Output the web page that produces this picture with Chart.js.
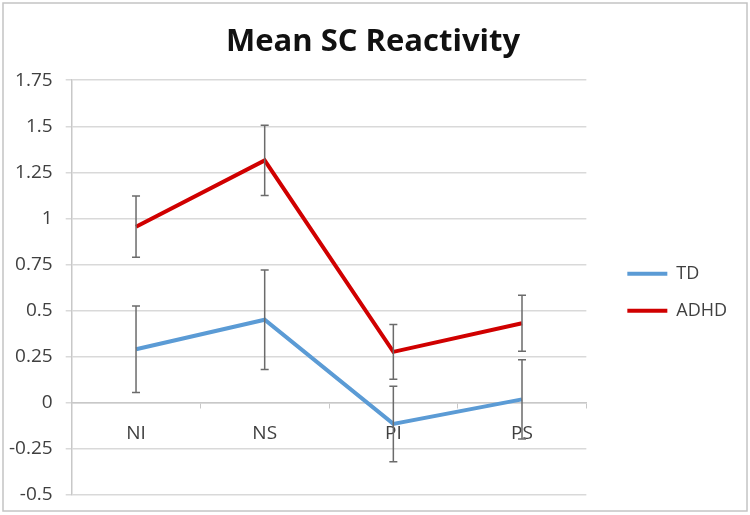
<!DOCTYPE html>
<html>
<head>
<meta charset="utf-8">
<script src="https://cdn.jsdelivr.net/npm/chart.js@4.4.1/dist/chart.umd.min.js"></script>
<style>
  html, body { margin: 0; padding: 0; background: #fff; }
  #wrap { width: 750px; height: 515px; }
</style>
</head>
<body>
<div id="wrap"><canvas id="sc-chart" width="750" height="515"></canvas></div>
<script>
// Chart data
const conditions = ['NI', 'NS', 'PI', 'PS'];
const tdMeans = [0.29, 0.45, -0.115, 0.018];
const tdErrors = [0.235, 0.27, 0.205, 0.215];
const adhdMeans = [0.955, 1.315, 0.276, 0.431];
const adhdErrors = [0.166, 0.19, 0.148, 0.152];

const FONT = '"Open Sans", "Liberation Sans", sans-serif';

// Outer frame, like the Excel chart border
const framePlugin = {
    id: 'frame',
    beforeDraw(chart) {
        const ctx = chart.ctx;
        ctx.save();
        ctx.fillStyle = '#fff';
        ctx.fillRect(0, 0, chart.width, chart.height);
        ctx.strokeStyle = '#c4c4c4';
        ctx.lineWidth = 1.5;
        ctx.strokeRect(3, 3, chart.width - 6, chart.height - 7);
        ctx.restore();
    }
};

// Extra room on the right side of the legend
const legendRoomPlugin = {
    id: 'legendRoom',
    beforeInit(chart) {
        const origFit = chart.legend.fit;
        chart.legend.fit = function () {
            origFit.call(this);
            this.width += 16;
        };
    }
};

// Vertical error bars with caps, read from dataset.errors
const errorBarPlugin = {
    id: 'errorBars',
    afterDatasetsDraw(chart) {
        const ctx = chart.ctx;
        const yScale = chart.scales.y;
        ctx.save();
        ctx.strokeStyle = '#6b6b6b';
        ctx.lineWidth = 1.5;
        chart.data.datasets.forEach((ds, di) => {
            const meta = chart.getDatasetMeta(di);
            if (!ds.errors || meta.hidden) return;
            meta.data.forEach((pt, i) => {
                const x = pt.x;
                const yTop = yScale.getPixelForValue(ds.data[i] + ds.errors[i]);
                const yBot = yScale.getPixelForValue(ds.data[i] - ds.errors[i]);
                ctx.beginPath();
                ctx.moveTo(x, yTop);
                ctx.lineTo(x, yBot);
                ctx.moveTo(x - 4, yTop);
                ctx.lineTo(x + 4, yTop);
                ctx.moveTo(x - 4, yBot);
                ctx.lineTo(x + 4, yBot);
                ctx.stroke();
            });
        });
        ctx.restore();
    }
};

const ctx = document.getElementById('sc-chart');
new Chart(ctx, {
    type: 'line',
    data: {
        labels: conditions,
        datasets: [{
            label: 'TD',
            data: tdMeans,
            errors: tdErrors,
            borderColor: '#5b9bd5',
            backgroundColor: '#5b9bd5',
            borderWidth: 4,
            pointRadius: 0,
            tension: 0,
            yAxisID: 'y'
        }, {
            label: 'ADHD',
            data: adhdMeans,
            errors: adhdErrors,
            borderColor: '#d00000',
            backgroundColor: '#d00000',
            borderWidth: 4,
            pointRadius: 0,
            tension: 0,
            yAxisID: 'y'
        }]
    },
    options: {
        responsive: false,
        animation: false,
        layout: {
            padding: { top: 10, left: -4, right: 0, bottom: 5 }
        },
        plugins: {
            title: {
                display: true,
                text: 'Mean SC Reactivity',
                color: '#111',
                font: { family: FONT, size: 31, weight: 'bold', lineHeight: 1.2 },
                padding: { top: 14, bottom: 19 }
            },
            legend: {
                position: 'right',
                fullSize: false,
                title: { display: true, text: '', font: { size: 8 }, padding: 0 },
                labels: {
                    color: '#404040',
                    font: { family: FONT, size: 18 },
                    boxWidth: 40,
                    boxHeight: 4,
                    padding: 19,
                    generateLabels(chart) {
                        return Chart.defaults.plugins.legend.labels.generateLabels(chart)
                            .map(item => ({ ...item, lineWidth: 0 }));
                    }
                }
            },
            tooltip: { enabled: false }
        },
        scales: {
            x: {
                type: 'category',
                position: { y: 0 },
                offset: true,
                grid: {
                    display: true,
                    drawOnChartArea: false,
                    drawTicks: true,
                    tickLength: 5,
                    color: '#c8c8c8',
                    offset: true
                },
                border: { display: true, color: '#c8c8c8', width: 1.5 },
                ticks: {
                    color: '#404040',
                    font: { family: FONT, size: 19 },
                    padding: 14,
                    maxRotation: 0
                }
            },
            y: {
                position: 'left',
                min: -0.5,
                max: 1.75,
                grid: {
                    color: '#d9d9d9',
                    lineWidth: 1.5,
                    tickLength: 6
                },
                border: { display: true, color: '#c8c8c8', width: 1.5 },
                ticks: {
                    stepSize: 0.25,
                    color: '#404040',
                    font: { family: FONT, size: 19, lineHeight: 0.75 },
                    padding: 13,
                    callback: (v) => String(Math.round(v * 100) / 100)
                }
            },
            // spacer between plot area and legend
            gap: {
                type: 'linear',
                axis: 'y',
                position: 'right',
                display: true,
                grid: { display: false },
                border: { display: false },
                ticks: { display: false },
                afterFit(scale) { scale.width = 22; }
            }
        }
    },
    plugins: [framePlugin, legendRoomPlugin, errorBarPlugin]
});
</script>
</body>
</html>
